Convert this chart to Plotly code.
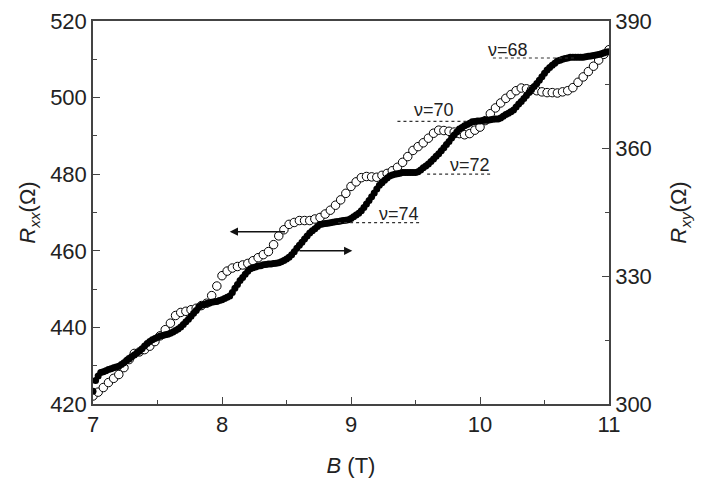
import numpy as np
import plotly.graph_objects as go

# ---------------- data ----------------
# Rxx (open circles, left axis), sampled every 0.04 T from 7 to 11 T
B_xx = np.round(np.linspace(7.0, 11.0, 101), 3)
R_xx = [422.1, 423.1, 424.3, 425.6, 426.7, 427.7, 429.5, 431.6, 433.2, 433.6,
        434.2, 435.1, 436.3, 437.8, 439.4, 441.1, 443.1, 443.9, 444.2, 444.6,
        445.0, 445.7, 446.3, 448.3, 450.8, 453.5, 454.7, 455.5, 455.9, 456.3,
        456.7, 457.4, 458.2, 459.0, 459.8, 461.6, 463.9, 465.5, 466.9, 467.4,
        467.9, 467.9, 467.9, 468.3, 468.7, 469.6, 470.6, 471.9, 473.3, 475.0,
        476.8, 478.0, 479.1, 479.4, 479.3, 479.2, 479.7, 480.2, 480.9, 481.8,
        483.1, 484.6, 486.2, 487.2, 488.2, 489.4, 490.7, 491.5, 491.4, 491.2,
        491.0, 490.6, 490.3, 490.6, 491.5, 492.3, 494.0, 495.8, 497.3, 498.6,
        499.8, 500.8, 501.8, 502.5, 502.3, 502.1, 501.8, 501.5, 501.3, 501.3,
        501.2, 501.5, 501.8, 502.6, 504.0, 505.4, 506.8, 508.2, 509.8, 511.3,
        512.5]

# Rxy (filled circles, right axis), sampled every 0.02 T from 7 to 11 T
B_xy = np.round(np.linspace(7.0, 11.0, 201), 3)
R_xy = [303.0, 305.5, 306.6, 307.4, 307.6, 307.8, 308.1, 308.3, 308.5, 308.7,
        308.9, 309.3, 309.7, 310.2, 310.6, 311.1, 311.5, 312.0, 312.4, 313.0,
        313.6, 314.2, 314.7, 315.1, 315.4, 315.7, 316.0, 316.1, 316.3, 316.4,
        316.6, 316.9, 317.3, 317.6, 318.1, 318.7, 319.3, 319.9, 320.6, 321.3,
        322.0, 322.8, 323.2, 323.4, 323.6, 323.7, 323.9, 324.0, 324.1, 324.3,
        324.5, 324.8, 325.1, 325.4, 326.2, 327.2, 328.1, 329.0, 329.7, 330.5,
        331.2, 331.8, 332.0, 332.2, 332.4, 332.5, 332.7, 332.8, 332.9, 332.9,
        333.0, 333.1, 333.2, 333.4, 333.7, 334.1, 334.5, 335.1, 335.8, 336.6,
        337.3, 338.0, 338.8, 339.5, 340.2, 340.7, 341.2, 341.7, 342.2, 342.3,
        342.4, 342.5, 342.6, 342.7, 342.8, 342.9, 343.0, 343.1, 343.2, 343.3,
        343.6, 344.0, 344.4, 344.8, 345.4, 346.2, 347.0, 347.8, 348.7, 349.6,
        350.5, 351.4, 352.0, 352.6, 353.1, 353.6, 353.8, 354.0, 354.1, 354.2,
        354.4, 354.4, 354.4, 354.4, 354.4, 354.4, 354.6, 355.0, 355.5, 355.9,
        356.4, 357.0, 357.6, 358.2, 358.8, 359.5, 360.2, 361.0, 361.7, 362.5,
        363.2, 363.9, 364.6, 365.0, 365.4, 365.7, 366.0, 366.3, 366.4, 366.5,
        366.5, 366.6, 366.7, 366.7, 366.8, 366.9, 367.0, 367.0, 367.2, 367.6,
        368.0, 368.3, 368.7, 369.1, 369.8, 370.5, 371.1, 371.8, 372.5, 373.2,
        373.9, 374.6, 375.3, 376.1, 376.9, 377.7, 378.5, 379.1, 379.6, 380.1,
        380.6, 380.8, 381.0, 381.2, 381.3, 381.5, 381.5, 381.5, 381.5, 381.5,
        381.5, 381.6, 381.7, 381.8, 381.9, 382.0, 382.1, 382.3, 382.5, 382.7,
        382.8]

# filling-factor plateaus (right axis): label, plateau level, line start/end (T)
nu_labels = ["ν=74", "ν=72", "ν=70", "ν=68"]
nu_level = [342.6, 354.0, 366.4, 381.3]
nu_line_B0 = [8.90, 9.59, 9.36, 10.10]
nu_line_B1 = [9.55, 10.10, 9.92, 10.74]
nu_text_B = [9.20, 9.75, 9.47, 10.05]
nu_text_R = [344.6, 356.2, 369.1, 383.1]

# arrows: which axis each curve belongs to
arrow_left = dict(head_B=8.06, tail_B=8.50, R=465.0)     # Rxx -> left axis
arrow_right = dict(head_B=9.01, tail_B=8.59, R=336.0)    # Rxy -> right axis

x_ticks = [7, 8, 9, 10, 11]
y_ticks = [420, 440, 460, 480, 500, 520]
y2_ticks = [300, 330, 360, 390]

# ---------------- figure ----------------
AX = "#444444"
TXT = "#222222"
FONT = "Liberation Sans, Arial, sans-serif"

fig = go.Figure()
fig.add_trace(go.Scatter(
    x=B_xy, y=R_xy, mode="markers", yaxis="y2",
    marker=dict(symbol="circle", size=7, color="black",
                line=dict(color="black", width=0)),
    name="Rxy"))
fig.add_trace(go.Scatter(
    x=B_xx, y=R_xx, mode="markers", yaxis="y",
    marker=dict(symbol="circle", size=8.5, color="white",
                line=dict(color="black", width=1)),
    name="Rxx"))

for lab, lev, b0, b1, tb, tr in zip(nu_labels, nu_level, nu_line_B0, nu_line_B1,
                                    nu_text_B, nu_text_R):
    fig.add_shape(type="line", xref="x", yref="y2", x0=b0, x1=b1, y0=lev, y1=lev,
                  line=dict(color="#333333", width=1.2, dash="dot"))
    fig.add_annotation(x=tb, y=tr, xref="x", yref="y2", text=lab, showarrow=False,
                       xanchor="left", yanchor="middle",
                       font=dict(family=FONT, size=18, color=TXT))

fig.add_annotation(x=arrow_left["head_B"], y=arrow_left["R"], ax=arrow_left["tail_B"],
                   ay=arrow_left["R"], xref="x", yref="y", axref="x", ayref="y",
                   text="", showarrow=True, arrowhead=2, arrowsize=1.1,
                   arrowwidth=1.5, arrowcolor="#111111")
fig.add_annotation(x=arrow_right["head_B"], y=arrow_right["R"], ax=arrow_right["tail_B"],
                   ay=arrow_right["R"], xref="x", yref="y2", axref="x", ayref="y2",
                   text="", showarrow=True, arrowhead=2, arrowsize=1.1,
                   arrowwidth=1.5, arrowcolor="#111111")

common = dict(showgrid=False, zeroline=False, showline=True, linecolor=AX,
              linewidth=1.5, ticks="inside", ticklen=7, tickwidth=1.3,
              tickcolor=AX, automargin=False,
              tickfont=dict(family=FONT, size=22, color=TXT))

fig.update_layout(
    width=704, height=478,
    margin=dict(l=93, r=95, t=21, b=74),
    paper_bgcolor="white", plot_bgcolor="white",
    showlegend=False,
    font=dict(family=FONT, size=22, color=TXT),
    xaxis=dict(range=[7, 11], tickvals=x_ticks, mirror=True,
               minor=dict(ticks="inside", ticklen=4, dtick=0.5, tickwidth=1.2, tickcolor=AX),
               title=dict(text="<i>B</i> (T)", font=dict(family=FONT, size=22, color=TXT),
                          standoff=24),
               **common),
    yaxis=dict(range=[420, 520], tickvals=y_ticks,
               minor=dict(ticks="inside", ticklen=4, dtick=10, tickwidth=1.2, tickcolor=AX),
               title=dict(text="<i>R</i><sub><i>xx</i></sub>(Ω)",
                          font=dict(family=FONT, size=22, color=TXT), standoff=8),
               **common),
    yaxis2=dict(range=[300, 390], tickvals=y2_ticks, overlaying="y", side="right",
                minor=dict(ticks="inside", ticklen=4, dtick=15, tickwidth=1.2, tickcolor=AX),
                title=dict(text="<i>R</i><sub><i>xy</i></sub>(Ω)",
                           font=dict(family=FONT, size=22, color=TXT), standoff=20),
                **common),
)

fig.write_html("out.html")
